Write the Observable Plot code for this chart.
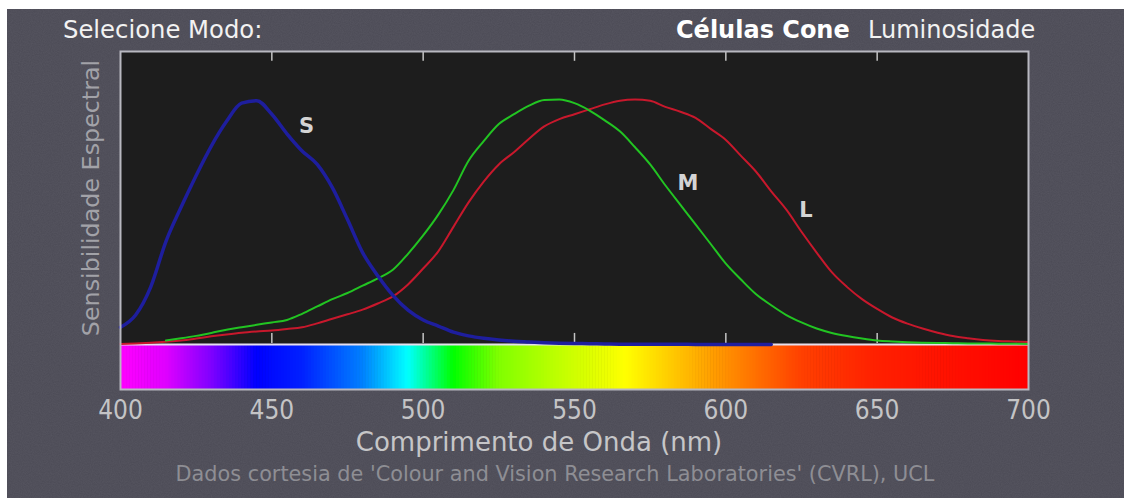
<!DOCTYPE html>
<html>
<head>
<meta charset="utf-8">
<script src="https://cdn.jsdelivr.net/npm/d3@7"></script>
<script src="https://cdn.jsdelivr.net/npm/@observablehq/plot@0.6"></script>
<style>
  html, body { margin: 0; padding: 0; background: #ffffff; width: 1124px; height: 498px; overflow: hidden; }
  #bg { position: absolute; left: 7px; top: 9px; width: 1117px; height: 489px; background: #4b4a55; }
  .t { position: absolute; white-space: nowrap; font-family: "DejaVu Sans", sans-serif; line-height: 1; }
  #chart { position: absolute; left: 0; top: 0; }
</style>
</head>
<body>
<div id="bg">
<svg width="1117" height="489" style="position:absolute;left:0;top:0">
  <filter id="n"><feTurbulence type="fractalNoise" baseFrequency="0.9" numOctaves="2" seed="3"/><feColorMatrix type="matrix" values="0 0 0 0 0.5  0 0 0 0 0.5  0 0 0 0 0.55  0 0 0 0.10 0"/></filter>
  <rect width="1117" height="489" filter="url(#n)"/>
</svg>
</div>
<div class="t" id="hdrL" style="left:63px;top:18px;font-size:24.3px;color:#f2f2f2;">Selecione Modo:</div>
<div class="t" id="hdrR1" style="left:676px;top:18px;font-size:24px;font-weight:bold;color:#ffffff;">Células Cone</div>
<div class="t" id="hdrR2" style="left:868px;top:18px;font-size:24px;color:#f2f2f2;">Luminosidade</div>
<div class="t" id="ylab" style="left:92px;top:198px;font-size:23.8px;color:#a2a2a8;transform:translate(-50%,-50%) rotate(-90deg);">Sensibilidade Espectral</div>
<div id="chart"></div>
<div class="t" id="xlab" style="left:539px;top:429px;font-size:26px;color:#c6c6c8;transform:translateX(-50%);">Comprimento de Onda (nm)</div>
<div class="t" id="cap" style="left:555px;top:464px;font-size:20.8px;color:#8e8e94;transform:translateX(-50%);">Dados cortesia de 'Colour and Vision Research Laboratories' (CVRL), UCL</div>
<script>
// Wavelength grid (nm)
const wavelengths = [400,405,410,415,420,425,430,435,440,445,450,455,460,465,470,475,480,485,490,495,
  500,505,510,515,520,525,530,535,540,545,550,555,560,565,570,575,580,585,590,595,
  600,605,610,615,620,625,630,635,640,645,650,655,660,665,670,675,680,685,690,695,700];

// S cone (blue)
const sCone = [0.07,0.12,0.235,0.42,0.56,0.69,0.81,0.91,0.985,0.995,0.94,0.86,0.79,0.735,0.64,0.51,0.375,0.28,0.2,0.14,
  0.1,0.075,0.05,0.035,0.025,0.018,0.013,0.01,0.007,0.005,0.004,0.003,0.002,0.001,0.001,0.001,0.001,0.001,0,0,
  0,0,0,0,null,null,null,null,null,null,null,null,null,null,null,null,null,null,null,null,null];

// M cone (green)
const mCone = [null,null,null,0.016,0.025,0.035,0.047,0.06,0.07,0.08,0.09,0.1,0.125,0.155,0.185,0.21,0.24,0.27,0.305,0.37,
  0.445,0.53,0.63,0.75,0.83,0.9,0.94,0.975,0.998,1.0,0.985,0.955,0.915,0.87,0.805,0.735,0.65,0.57,0.49,0.41,
  0.33,0.265,0.205,0.16,0.12,0.09,0.065,0.047,0.034,0.024,0.016,0.012,0.009,0.007,0.006,0.005,0.004,0.004,0.003,0.003,0.002];

// L cone (red)
const lCone = [0.002,0.004,0.007,0.011,0.016,0.024,0.033,0.041,0.048,0.053,0.057,0.063,0.07,0.086,0.105,0.123,0.142,0.167,0.196,0.245,
  0.31,0.38,0.48,0.58,0.665,0.735,0.785,0.84,0.89,0.92,0.94,0.96,0.98,0.995,1.0,0.995,0.97,0.95,0.925,0.88,
  0.835,0.77,0.705,0.625,0.55,0.46,0.375,0.295,0.235,0.185,0.145,0.11,0.085,0.065,0.048,0.034,0.025,0.018,0.014,0.012,0.01];

// Curve labels
const curveNames = ["S", "M", "L"];
const curveLabelX = [461.5, 587.5, 626.5];
const curveLabelY = [0.89, 0.657, 0.547];

// Spectrum bar colour stops
const spectrumNm = [400,415,430,445,460,480,495,510,525,545,567,585,605,625,650,700];
const spectrumColors = ["#ff00ff","#e000ff","#8000ff","#0000ff","#0020ff","#0080ff","#00ffff","#00ff00",
  "#80ff00","#c0ff00","#ffff00","#ffc000","#ff8000","#ff4000","#ff2000","#ff0000"];

// Axis ticks
const tickLabels = [400,450,500,550,600,650,700];
const innerTicks = [450,500,550,600,650];

const yTop = 1.196, yBot = -0.184;

const toSeries = (vals) => wavelengths.map((w, i) => ({w, v: vals[i]})).filter(d => d.v != null);
const S = toSeries(sCone), M = toSeries(mCone), L = toSeries(lCone);
const labels = curveNames.map((name, i) => ({name, x: curveLabelX[i], y: curveLabelY[i]}));

const specScale = d3.scaleLinear().domain(spectrumNm).range(spectrumColors).interpolate(d3.interpolateRgb);
const cells = d3.range(400, 700, 1).map(n => ({x1: n, x2: n + 1.2, color: specScale(n + 0.5)}));

const chart = Plot.plot({
  width: 1124, height: 440,
  marginLeft: 120, marginRight: 96, marginTop: 51, marginBottom: 51,
  x: {domain: [400, 700]},
  y: {domain: [yBot, yTop], axis: null},
  style: {background: "transparent", overflow: "visible"},
  marks: [
    Plot.frame({fill: "#1d1d1d", stroke: null}),
    Plot.rect(cells, {x1: "x1", x2: "x2", y1: yBot, y2: 0, fill: "color"}),
    Plot.ruleY([0], {stroke: "#e6dfee", strokeWidth: 2}),
    Plot.ruleX(innerTicks, {x: d => d, y1: 0.004, y2: 0.045, stroke: "#c4c4c4", strokeWidth: 1.5}),
    Plot.ruleX(innerTicks, {x: d => d, y1: yTop, y2: yTop - 0.04, stroke: "#c4c4c4", strokeWidth: 1.5}),
    Plot.line(L, {x: "w", y: "v", stroke: "#c8182c", strokeWidth: 2, curve: "monotone-x"}),
    Plot.line(M, {x: "w", y: "v", stroke: "#22c422", strokeWidth: 2, curve: "monotone-x"}),
    Plot.line(S, {x: "w", y: "v", stroke: "#1e1e9e", strokeWidth: 3.5, curve: "monotone-x"}),
    Plot.text(labels, {x: "x", y: "y", text: "name", fill: "#d4d4d4", fontSize: 21, fontWeight: "bold", fontFamily: "DejaVu Sans"}),
    Plot.frame({stroke: "#b8b8c0", strokeWidth: 2}),
    Plot.axisX({anchor: "bottom", ticks: tickLabels, tickSize: 0, tickPadding: 11, tickFormat: d => String(d),
      fontSize: 26, fontFamily: "DejaVu Sans Condensed, DejaVu Sans", fill: "#c4c4c6", label: null})
  ]
});
document.getElementById("chart").append(chart);
</script>
</body>
</html>
